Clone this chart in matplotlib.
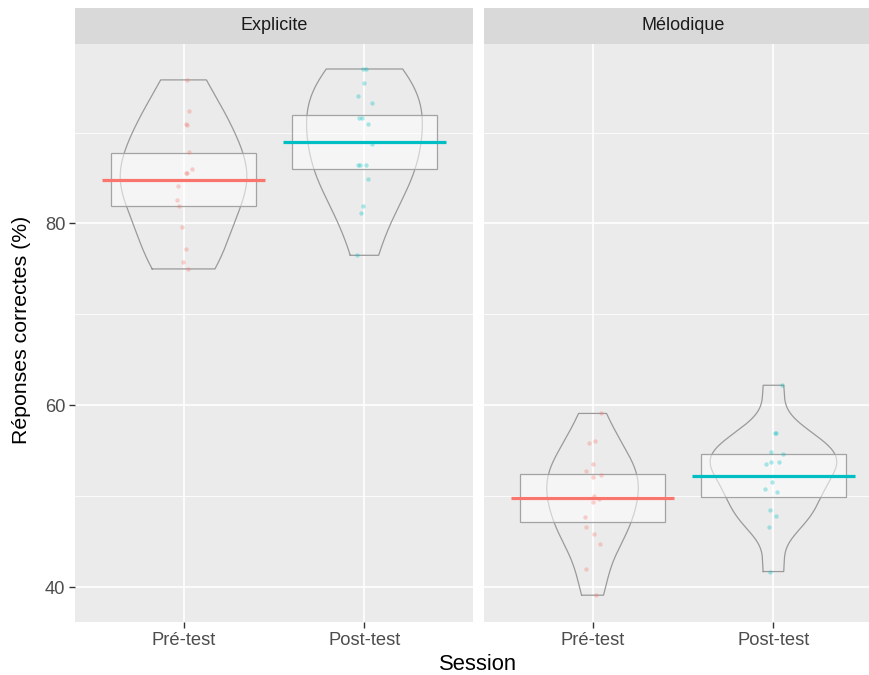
import numpy as np
import matplotlib
matplotlib.use("Agg")
import matplotlib.pyplot as plt

plt.rcParams['font.family'] = ['Liberation Sans', 'DejaVu Sans']

facets = ["Explicite", "Mélodique"]
sessions = ["Pré-test", "Post-test"]
colors = ["#F8766D", "#00BFC4"]

# scores (%) per facet/session
explicite_pre = [95.8, 92.4, 90.9, 90.8, 87.9, 86.0, 85.6, 85.6, 84.1, 82.6, 81.9, 79.6, 77.2, 75.8, 75.0]
explicite_post = [97.0, 97.0, 95.5, 94.0, 93.3, 91.6, 91.6, 90.9, 88.7, 86.4, 86.4, 86.4, 84.9, 81.9, 81.1, 76.5]
melodique_pre = [59.1, 56.1, 55.8, 53.5, 52.8, 52.3, 52.1, 50.0, 49.7, 49.3, 47.7, 46.6, 45.8, 44.7, 42.0, 39.1]
melodique_post = [62.2, 56.9, 56.9, 54.9, 54.6, 53.8, 53.8, 53.5, 51.5, 50.8, 50.4, 48.5, 47.8, 46.6, 41.7]

# horizontal jitter (category units)
explicite_pre_jit = [0.018, 0.032, 0.015, 0.017, 0.032, 0.046, 0.013, 0.021, -0.033, -0.035, -0.024, -0.007, 0.015, -0.002, 0.024]
explicite_post_jit = [-0.007, 0.007, -0.002, -0.033, 0.039, -0.029, -0.011, 0.022, 0.039, -0.037, -0.022, 0.009, 0.017, -0.009, -0.018, -0.041]
melodique_pre_jit = [0.044, 0.011, -0.018, 0.002, -0.037, 0.048, 0.004, 0.009, 0.033, 0.004, -0.039, -0.035, 0.006, 0.043, -0.035, 0.018]
melodique_post_jit = [0.048, 0.009, 0.015, -0.013, 0.052, -0.013, 0.033, -0.039, -0.009, -0.048, 0.021, -0.018, 0.013, -0.022, -0.017]

# inference band (lower, upper) per session
explicite_band_low = [81.9, 86.0]
explicite_band_high = [87.75, 91.9]
melodique_band_low = [47.2, 49.9]
melodique_band_high = [52.4, 54.6]

# violin: bandwidth adjustment and max half-width (category units) per session
explicite_bw_adjust = [1.15, 1.3]
melodique_bw_adjust = [1.0, 1.0]
explicite_violin_halfwidth = [0.35, 0.32]
melodique_violin_halfwidth = [0.253, 0.35]

data = {
    "Explicite": ([explicite_pre, explicite_post], [explicite_pre_jit, explicite_post_jit],
                  explicite_band_low, explicite_band_high, explicite_bw_adjust, explicite_violin_halfwidth),
    "Mélodique": ([melodique_pre, melodique_post], [melodique_pre_jit, melodique_post_jit],
                  melodique_band_low, melodique_band_high, melodique_bw_adjust, melodique_violin_halfwidth),
}


def kde_trim(vals, adjust=1.0, n=512):
    v = np.asarray(vals, float)
    sd = v.std(ddof=1)
    q75, q25 = np.percentile(v, [75, 25])
    lo = min(sd, (q75 - q25) / 1.34)
    bw = adjust * 0.9 * lo * len(v) ** (-0.2)
    ys = np.linspace(v.min(), v.max(), n)
    d = np.exp(-0.5 * ((ys[:, None] - v[None, :]) / bw) ** 2).sum(axis=1) / (len(v) * bw * np.sqrt(2 * np.pi))
    return ys, d


fig = plt.figure(figsize=(8.7, 6.75), dpi=100)
W, H = 870, 675
axes_px = [(75, 473), (484, 882)]
top, bottom = 44, 622
strip_top = 8

ylim = (36.15, 99.75)
for k, f in enumerate(facets):
    l, r = axes_px[k]
    ax = fig.add_axes([l / W, 1 - bottom / H, (r - l) / W, (bottom - top) / H])
    ax.set_facecolor("#EBEBEB")
    for s in ax.spines.values():
        s.set_visible(False)
    ax.set_xlim(0.4, 2.6)
    ax.set_ylim(*ylim)
    for yv in [50, 70, 90]:
        ax.axhline(yv, color="white", lw=0.6, zorder=0)
    for yv in [40, 60, 80]:
        ax.axhline(yv, color="white", lw=1.2, zorder=0)
    for xv in [1, 2]:
        ax.axvline(xv, color="white", lw=1.2, zorder=0)

    vals_list, jit_list, blo, bhi, adj, hw = data[f]
    for i, vals in enumerate(vals_list):
        x0 = i + 1
        ys, d = kde_trim(vals, adj[i])
        w = d / d.max() * hw[i]
        xs = np.concatenate([x0 - w, (x0 + w)[::-1], [x0 - w[0]]])
        yy = np.concatenate([ys, ys[::-1], [ys[0]]])
        ax.plot(xs, yy, color="#9A9A9A", lw=0.9, zorder=2)
        # band
        ax.add_patch(plt.Rectangle((x0 - 0.4, blo[i]), 0.8, bhi[i] - blo[i],
                                   facecolor=(1, 1, 1, 0.55), edgecolor="#A3A3A3", lw=0.9, zorder=3))
        m = np.mean(vals)
        ax.plot([x0 - 0.45, x0 + 0.45], [m, m], color=colors[i], lw=2.3, solid_capstyle="butt", zorder=4)
        ax.scatter(np.array(jit_list[i]) + x0, vals, s=10, color=colors[i], alpha=0.32,
                   linewidths=0, zorder=5)

    ax.set_xticks([1, 2])
    ax.set_xticklabels(sessions)
    ax.set_yticks([40, 60, 80])
    ax.tick_params(axis="both", colors="#333333", length=4, width=1, labelsize=13.2,
                   labelcolor="#4D4D4D", pad=3)
    if k == 1:
        ax.tick_params(axis="y", left=False, labelleft=False)
    # strip
    sax = fig.add_axes([l / W, 1 - top / H, (r - l) / W, (top - strip_top) / H])
    sax.set_facecolor("#D9D9D9")
    sax.set_xticks([]); sax.set_yticks([])
    for s in sax.spines.values():
        s.set_visible(False)
    sax.text(0.5, 0.5, f, ha="center", va="center", fontsize=13, color="#1A1A1A",
             transform=sax.transAxes)

fig.text(478 / W, 1 - 664 / H, "Session", ha="center", va="center", fontsize=15.8, color="black")
fig.text(22 / W, 1 - 330 / H, "Réponses correctes (%)", ha="center", va="center", rotation=90,
         fontsize=15.3, color="black")

fig.savefig("out.png", dpi=100)
